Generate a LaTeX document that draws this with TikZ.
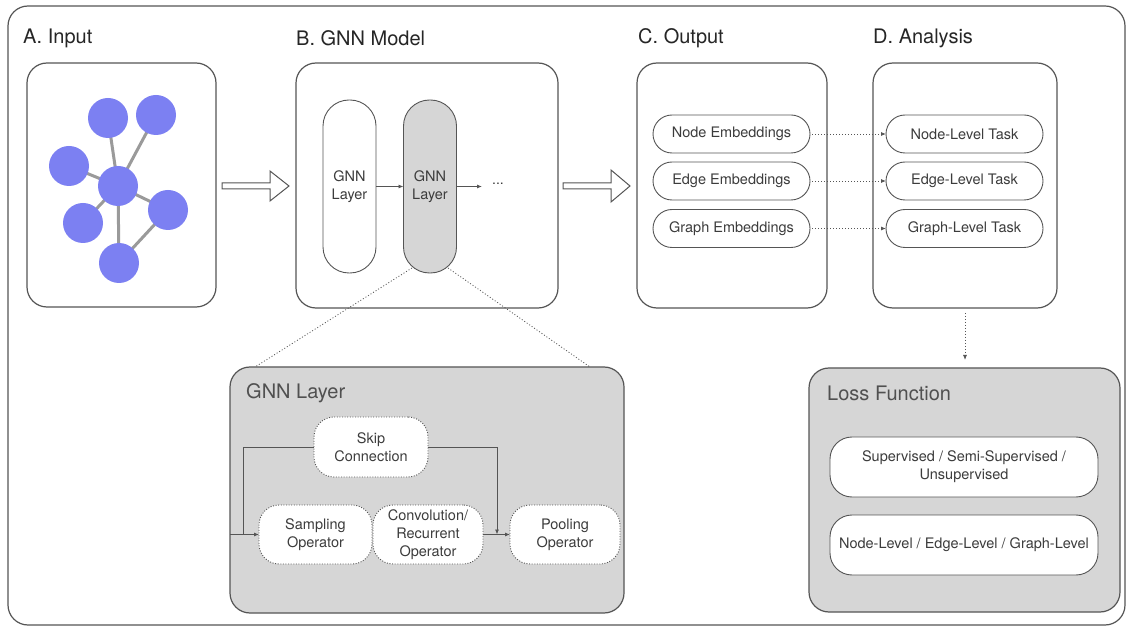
\documentclass[tikz,border=0pt]{standalone}
\usepackage{fontspec}
\setmainfont{TeX Gyre Heros}
\usetikzlibrary{arrows.meta}
\definecolor{nodeblue}{HTML}{7C80F2}
\definecolor{edgegray}{HTML}{9A9A9A}
\definecolor{linegray}{HTML}{555555}
\definecolor{txtgray}{HTML}{3C3C3C}
\definecolor{titlegray}{HTML}{505050}
\definecolor{fillgray}{HTML}{D6D6D6}
\begin{document}
\begin{tikzpicture}[x=1pt,y=-1pt,
  panel/.style={draw=linegray, line width=1.2pt, rounded corners=20pt, inner sep=0pt, outer sep=0pt, fill=white},
  graypanel/.style={panel, fill=fillgray},
  heading/.style={anchor=west, inner sep=0pt, font=\fontsize{20}{24}\selectfont, text=black!85},
  paneltitle/.style={anchor=west, inner sep=0pt, font=\fontsize{20}{24}\selectfont, text=titlegray},
  pill/.style={draw=linegray, line width=0.9pt, fill=white, inner sep=0pt, outer sep=0pt, align=center, text=txtgray, font=\fontsize{14.5}{18}\selectfont},
  oppill/.style={draw=linegray, dash pattern=on 1pt off 1.6pt, line width=0.9pt, fill=white, inner sep=0pt, outer sep=0pt, align=center, text=txtgray, font=\fontsize{14.5}{18}\selectfont, rounded corners=20pt, minimum height=59pt},
  gnode/.style={circle, fill=nodeblue, minimum size=40pt, inner sep=0pt},
  gedge/.style={draw=edgegray, line width=3pt},
  conn/.style={draw=linegray, line width=0.8pt, -{Latex[length=5pt,width=4pt]}},
  dotconn/.style={draw=linegray, line width=0.8pt, dash pattern=on 1pt off 2pt, -{Latex[length=5pt,width=4pt]}},
  zoomline/.style={draw=linegray, line width=0.8pt, dash pattern=on 1pt off 2pt},
  blockarrow/.style={draw=linegray, line width=1pt, fill=white}
]
\useasboundingbox (0,0) rectangle (1128,628);

% outer frame
\node[panel, minimum width=1117pt, minimum height=619pt] (frame) at (566.5,315.5) {};

% headings
\node[heading] (hA) at (23,38) {A. Input};
\node[heading] (hB) at (296,38) {B. GNN Model};
\node[heading] (hC) at (638,38) {C. Output};
\node[heading] (hD) at (873,38) {D. Analysis};

% panels
\node[panel, minimum width=189pt, minimum height=244pt] (A) at (121.5,185) {};
\node[panel, minimum width=262pt, minimum height=245pt] (B) at (427,185.5) {};
\node[panel, minimum width=190pt, minimum height=245pt] (C) at (732,185.5) {};
\node[panel, minimum width=184pt, minimum height=245pt] (D) at (965,185.5) {};

% input graph
\coordinate (g1) at (108,118);
\coordinate (g2) at (156,115);
\coordinate (g3) at (69,166);
\coordinate (g4) at (118,186);
\coordinate (g5) at (83,223);
\coordinate (g6) at (168,210);
\coordinate (g7) at (119,263);
\draw[gedge] (g4) -- (g1);
\draw[gedge] (g4) -- (g2);
\draw[gedge] (g4) -- (g3);
\draw[gedge] (g4) -- (g5);
\draw[gedge] (g4) -- (g6);
\draw[gedge] (g4) -- (g7);
\draw[gedge] (g6) -- (g7);
\foreach \g in {g1,g2,g3,g4,g5,g6,g7} \node[gnode] (n\g) at (\g) {};

% block arrows
\draw[blockarrow] (222,183) -- (270,183) -- (270,171) -- (289,186) -- (270,201) -- (270,189) -- (222,189) -- cycle;
\draw[blockarrow] (563,183) -- (611,183) -- (611,170) -- (630,186) -- (611,202) -- (611,189) -- (563,189) -- cycle;

% GNN model pills
\node[pill, minimum width=53pt, minimum height=173pt, rounded corners=26pt] (L1) at (349.5,186.5) {GNN\\Layer};
\node[pill, fill=fillgray, minimum width=53pt, minimum height=173pt, rounded corners=26pt] (L2) at (430,186.5) {GNN\\Layer};
\coordinate (dotsend) at (482,186.5);
\node[text=txtgray, inner sep=0pt, font=\fontsize{14}{16}\selectfont] (dots) at (498,184) {...};
\draw[conn] (L1) -- (L2);
\draw[conn] (L2) -- (dotsend);

% GNN layer detail
\node[graypanel, minimum width=394pt, minimum height=246pt] (G) at (427,490) {};
\coordinate (zl1) at (412,268);
\coordinate (zl2) at (255,367);
\coordinate (zr1) at (448,268);
\coordinate (zr2) at (590,367);
\draw[zoomline] (zl1) -- (zl2);
\draw[zoomline] (zr1) -- (zr2);
\node[paneltitle] (Gt) at (246,393) {GNN Layer};
\node[oppill, minimum width=114pt, minimum height=60pt] (skip) at (371,447) {Skip\\Connection};
\node[oppill, minimum width=113pt] (samp) at (315.5,534.5) {Sampling\\Operator};
\node[oppill, minimum width=110pt] (conv) at (428,534.5) {Convolution/\\Recurrent\\Operator};
\node[oppill, minimum width=110pt] (pool) at (565,534.5) {Pooling\\Operator};
\coordinate (gin) at (G.west |- samp);
\coordinate (split) at (243,534.5);
\coordinate (merge) at (497,534.5);
\draw[conn] (gin) -- (samp);
\draw[draw=linegray, line width=0.8pt] (split) |- (skip.west);
\draw[conn] (skip.east) -| (merge);
\draw[conn] (conv) -- (pool);

% output and analysis pills
\node[pill, minimum width=157pt, minimum height=38pt, rounded corners=19pt] (ne) at (731.5,134) {Node Embeddings};
\node[pill, minimum width=157pt, minimum height=38pt, rounded corners=19pt] (ee) at (731.5,181) {Edge Embeddings};
\node[pill, minimum width=157pt, minimum height=38pt, rounded corners=19pt] (ge) at (731.5,228.5) {Graph Embeddings};
\node[pill, minimum width=157pt, minimum height=38pt, rounded corners=19pt] (nt) at (964.5,134) {Node-Level Task};
\node[pill, minimum width=157pt, minimum height=38pt, rounded corners=19pt] (et) at (964.5,181) {Edge-Level Task};
\node[pill, minimum width=157pt, minimum height=38pt, rounded corners=19pt] (gt) at (964.5,228.5) {Graph-Level Task};
\draw[dotconn, shorten <=2pt] (ne) -- (nt);
\draw[dotconn, shorten <=2pt] (ee) -- (et);
\draw[dotconn, shorten <=2pt] (ge) -- (gt);

% loss function
\node[graypanel, minimum width=311pt, minimum height=244pt] (Lf) at (964.5,490) {};
\node[paneltitle] (Lft) at (827,393) {Loss Function};
\node[pill, minimum width=268pt, minimum height=60pt, rounded corners=22pt] (sup) at (964,467) {Supervised / Semi-Supervised /\\Unsupervised};
\node[pill, minimum width=268pt, minimum height=60pt, rounded corners=22pt] (lvl) at (964,545) {Node-Level / Edge-Level / Graph-Level};
\draw[dotconn, shorten <=5pt, shorten >=8pt] (D.south) -- (D.south |- Lf.north);
\end{tikzpicture}
\end{document}
